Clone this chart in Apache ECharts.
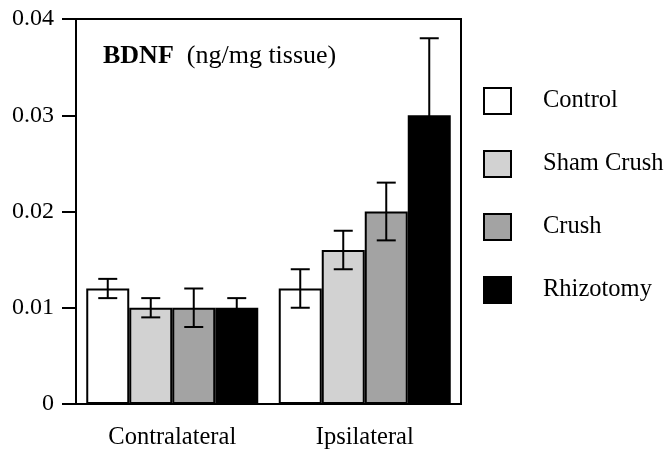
<!DOCTYPE html>
<html>
<head>
<meta charset="utf-8">
<script src="https://cdn.jsdelivr.net/npm/echarts@6/dist/echarts.min.js"></script>
<style>html,body{margin:0;padding:0;background:#fff;}#c{width:668px;height:450px;}</style>
</head>
<body>
<div id="c"></div>
<script>
var categories = ['Contralateral', 'Ipsilateral'];
var seriesNames = ['Control', 'Sham Crush', 'Crush', 'Rhizotomy'];
var control = [0.012, 0.012];
var controlErr = [0.001, 0.002];
var sham = [0.010, 0.016];
var shamErr = [0.001, 0.002];
var crush = [0.010, 0.020];
var crushErr = [0.002, 0.003];
var rhizo = [0.010, 0.030];
var rhizoErr = [0.001, 0.008];
var yTicks = [0, 0.01, 0.02, 0.03, 0.04];

var FONT = '"Liberation Serif", "Times New Roman", serif';
var colors = ['#ffffff', '#d2d2d2', '#a3a3a3', '#000000'];
var values = [control, sham, crush, rhizo];
var errs = [controlErr, shamErr, crushErr, rhizoErr];
var BAR_W = 43;

var series = [];
values.forEach(function (v, i) {
  series.push({
    name: seriesNames[i], type: 'bar', data: v, barWidth: BAR_W, barGap: '0%',
    itemStyle: { color: colors[i], borderColor: '#000', borderWidth: 2 },
    z: 2
  });
});
values.forEach(function (v, i) {
  var data = v.map(function (val, k) { return [k, val, errs[i][k]]; });
  series.push({
    type: 'custom', z: 5, silent: true,
    data: data,
    renderItem: function (params, api) {
      var k = api.value(0), val = api.value(1), e = api.value(2);
      var offset = (i - 1.5) * BAR_W;
      var hi = api.coord([k, val + e]);
      var lo = api.coord([k, val - e]);
      var x = hi[0] + offset;
      var cw = 9.5;
      var st = { stroke: '#000', lineWidth: 2 };
      return { type: 'group', children: [
        { type: 'line', shape: { x1: x, y1: hi[1], x2: x, y2: lo[1] }, style: st },
        { type: 'line', shape: { x1: x - cw, y1: hi[1], x2: x + cw, y2: hi[1] }, style: st },
        { type: 'line', shape: { x1: x - cw, y1: lo[1], x2: x + cw, y2: lo[1] }, style: st }
      ]};
    }
  });
});

var chart = echarts.init(document.getElementById('c'), null, { renderer: 'canvas' });
chart.setOption({
  animation: false,
  backgroundColor: '#fff',
  title: {
    text: '{b|BDNF}{n|  (ng/mg tissue)}',
    left: 98, top: 38,
    textStyle: {
      fontWeight: 'normal',
      rich: {
        b: { fontFamily: FONT, fontWeight: 'bold', fontSize: 26, color: '#000' },
        n: { fontFamily: FONT, fontWeight: 'normal', fontSize: 26, color: '#000' }
      }
    }
  },
  legend: {
    orient: 'vertical', left: 483, top: 87, padding: 0,
    itemWidth: 27, itemHeight: 26, itemGap: 35,
    icon: 'rect',
    data: seriesNames,
    textStyle: { fontFamily: FONT, fontSize: 24.5, color: '#000', padding: [0, 0, 0, 27] },
    selectedMode: false
  },
  grid: { left: 76, right: 207, top: 19, bottom: 46, show: true, borderColor: '#000', borderWidth: 2, backgroundColor: 'transparent' },
  xAxis: {
    type: 'category', data: categories,
    axisLine: { show: true, lineStyle: { color: '#000', width: 2 } },
    axisTick: { show: false },
    axisLabel: { fontFamily: FONT, fontSize: 24.5, color: '#000', margin: 21 }
  },
  yAxis: {
    type: 'value', min: 0, max: 0.04, interval: 0.01,
    axisLine: { show: true, lineStyle: { color: '#000', width: 2 } },
    axisTick: { show: true, length: 14, lineStyle: { color: '#000', width: 2 } },
    splitLine: { show: false },
    axisLabel: {
      fontFamily: FONT, fontSize: 24, color: '#000', margin: 22,
      formatter: function (v) {
        var idx = yTicks.indexOf(Math.round(v * 1000) / 1000);
        var t = idx >= 0 ? yTicks[idx] : v;
        return t === 0 ? '0' : t.toFixed(2);
      }
    }
  },
  series: series
});
</script>
</body>
</html>
